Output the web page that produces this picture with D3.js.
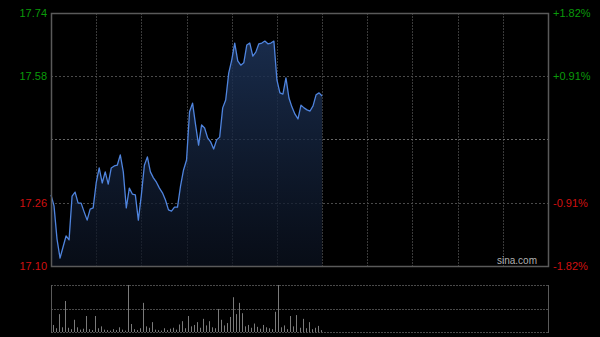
<!DOCTYPE html>
<html>
<head>
<meta charset="utf-8">
<script src="https://cdn.jsdelivr.net/npm/d3@7"></script>
<style>
  body { margin: 0; background: #000; }
  svg { display: block; }
</style>
</head>
<body>
<script>
// intraday prices, one point every 2 minutes from 9:30 (HK session)
var prices = [17.280, 17.252, 17.168, 17.120, 17.148, 17.176, 17.166, 17.277, 17.287, 17.259,
              17.259, 17.237, 17.216, 17.244, 17.247, 17.310, 17.348, 17.310, 17.338, 17.307,
              17.348, 17.353, 17.355, 17.381, 17.338, 17.247, 17.297, 17.282, 17.280, 17.216,
              17.280, 17.355, 17.376, 17.338, 17.323, 17.312, 17.297, 17.285, 17.267, 17.242,
              17.239, 17.249, 17.249, 17.302, 17.343, 17.368, 17.490, 17.512, 17.457, 17.406,
              17.457, 17.449, 17.424, 17.414, 17.396, 17.419, 17.426, 17.500, 17.520, 17.588,
              17.621, 17.664, 17.619, 17.608, 17.614, 17.659, 17.664, 17.631, 17.641, 17.662,
              17.664, 17.669, 17.662, 17.664, 17.669, 17.571, 17.538, 17.535, 17.576, 17.525,
              17.502, 17.484, 17.472, 17.507, 17.500, 17.495, 17.492, 17.505, 17.533, 17.538,
              17.530];

var volumes = [15, 8, 38, 10, 66, 9, 6, 26, 10, 5,
               7, 34, 6, 4, 34, 8, 12, 5, 4, 3,
               6, 4, 10, 5, 3, 100, 17, 6, 4, 8,
               62, 12, 9, 21, 5, 4, 3, 8, 4, 7,
               9, 5, 16, 23, 8, 34, 12, 15, 21, 9,
               28, 14, 23, 10, 8, 49, 26, 14, 19, 32,
               74, 38, 62, 40, 12, 15, 9, 18, 11, 7,
               15, 10, 8, 6, 43, 100, 10, 14, 6, 34,
               12, 36, 9, 28, 8, 21, 6, 9, 13, 4];

var priceTicks   = [17.74, 17.58, 17.42, 17.26, 17.10];
var priceLabels  = ['17.74', '17.58', '', '17.26', '17.10'];
var pctLabels    = ['+1.82%', '+0.91%', '', '-0.91%', '-1.82%'];
var prevClose    = 17.42;
var minuteStep   = 2;
var totalMinutes = 330;

var W = 600, H = 337;
var pLeft = 51, pRight = 548, pTop = 13, pBottom = 266;
var vTop = 285, vBottom = 332;

var svg = d3.select('body').append('svg')
            .attr('width', W)
            .attr('height', H);

var x  = d3.scaleLinear().domain([0, totalMinutes]).range([pLeft, pRight]);
var y  = d3.scaleLinear().domain([17.10, 17.74]).range([pBottom, pTop]);
var yv = d3.scaleLinear().domain([0, 100]).range([vBottom, vTop]);

svg.append('rect').attr('width', W).attr('height', H).attr('fill', '#000');

// gradient under the price line
var defs = svg.append('defs');
var grad = defs.append('linearGradient')
               .attr('id', 'fillGrad')
               .attr('x1', 0).attr('y1', 0).attr('x2', 0).attr('y2', 1);
grad.append('stop').attr('offset', '0%').attr('stop-color', '#1d3358').attr('stop-opacity', 0.85);
grad.append('stop').attr('offset', '100%').attr('stop-color', '#0b1220').attr('stop-opacity', 0.7);

///////////////////////////////////////////////////////////////////////////////
// grid
var vTicks = d3.range(30, totalMinutes, 30);

svg.selectAll('.vgrid').data(vTicks).enter().append('line')
   .attr('x1', function(d){ return Math.round(x(d)) + 0.5; })
   .attr('x2', function(d){ return Math.round(x(d)) + 0.5; })
   .attr('y1', pTop).attr('y2', pBottom)
   .attr('stroke', '#3a3a3a')
   .attr('stroke-dasharray', '2,1');

svg.selectAll('.hgrid').data(priceTicks.slice(1, 4)).enter().append('line')
   .attr('x1', pLeft).attr('x2', pRight)
   .attr('y1', function(d){ return Math.round(y(d)) + 0.5; })
   .attr('y2', function(d){ return Math.round(y(d)) + 0.5; })
   .attr('stroke', function(d){ return d === prevClose ? '#666' : '#4a4a4a'; })
   .attr('stroke-dasharray', '2,2');

///////////////////////////////////////////////////////////////////////////////
// price area + line
var area = d3.area()
             .x(function(d, i){ return x(i * minuteStep); })
             .y0(pBottom)
             .y1(function(d){ return y(d); });

var line = d3.line()
             .x(function(d, i){ return x(i * minuteStep); })
             .y(function(d){ return y(d); });

svg.append('path')
   .datum(prices)
   .attr('d', area)
   .attr('fill', 'url(#fillGrad)');

svg.append('path')
   .datum(prices)
   .attr('d', line)
   .attr('fill', 'none')
   .attr('stroke', '#4f84de')
   .attr('stroke-width', 1.3)
   .attr('stroke-linejoin', 'round');

// frame
svg.append('rect')
   .attr('x', pLeft + 0.5).attr('y', pTop + 0.5)
   .attr('width', pRight - pLeft).attr('height', pBottom - pTop)
   .attr('fill', 'none')
   .attr('stroke', '#5a5a5a')
   .attr('stroke-width', 1.5);

///////////////////////////////////////////////////////////////////////////////
// axis labels
svg.selectAll('.plabel').data(priceTicks).enter().append('text')
   .attr('x', 47)
   .attr('y', function(d){ return y(d) + 4; })
   .attr('text-anchor', 'end')
   .attr('font-family', 'Arial, "Liberation Sans", sans-serif')
   .attr('font-size', 11)
   .attr('fill', function(d){ return d > prevClose ? '#0a9a0a' : '#d01010'; })
   .text(function(d, i){ return priceLabels[i]; });

svg.selectAll('.pctlabel').data(priceTicks).enter().append('text')
   .attr('x', 553)
   .attr('y', function(d){ return y(d) + 4; })
   .attr('text-anchor', 'start')
   .attr('font-family', 'Arial, "Liberation Sans", sans-serif')
   .attr('font-size', 11)
   .attr('fill', function(d){ return d > prevClose ? '#0a9a0a' : '#d01010'; })
   .text(function(d, i){ return pctLabels[i]; });

svg.append('text')
   .attr('x', 537).attr('y', 264)
   .attr('text-anchor', 'end')
   .attr('font-family', 'Arial, "Liberation Sans", sans-serif')
   .attr('font-size', 10)
   .attr('fill', '#b0b0b0')
   .text('sina.com');

///////////////////////////////////////////////////////////////////////////////
// volume panel
[vTop, (vTop + vBottom) / 2, vBottom].forEach(function(v){
  svg.append('line')
     .attr('x1', pLeft).attr('x2', pRight)
     .attr('y1', Math.round(v) + 0.5).attr('y2', Math.round(v) + 0.5)
     .attr('stroke', '#4a4a4a')
     .attr('stroke-dasharray', '2,1');
});
[pLeft, pRight].forEach(function(v){
  svg.append('line')
     .attr('x1', v + 0.5).attr('x2', v + 0.5)
     .attr('y1', vTop).attr('y2', vBottom + 1)
     .attr('stroke', '#5a5a5a');
});

svg.selectAll('.vol').data(volumes).enter().append('rect')
   .attr('x', function(d, i){ return Math.round(x(i * minuteStep + 1)); })
   .attr('y', function(d){ return yv(d); })
   .attr('width', 1)
   .attr('height', function(d){ return vBottom - yv(d); })
   .attr('fill', '#7a7a7a');
</script>
</body>
</html>
